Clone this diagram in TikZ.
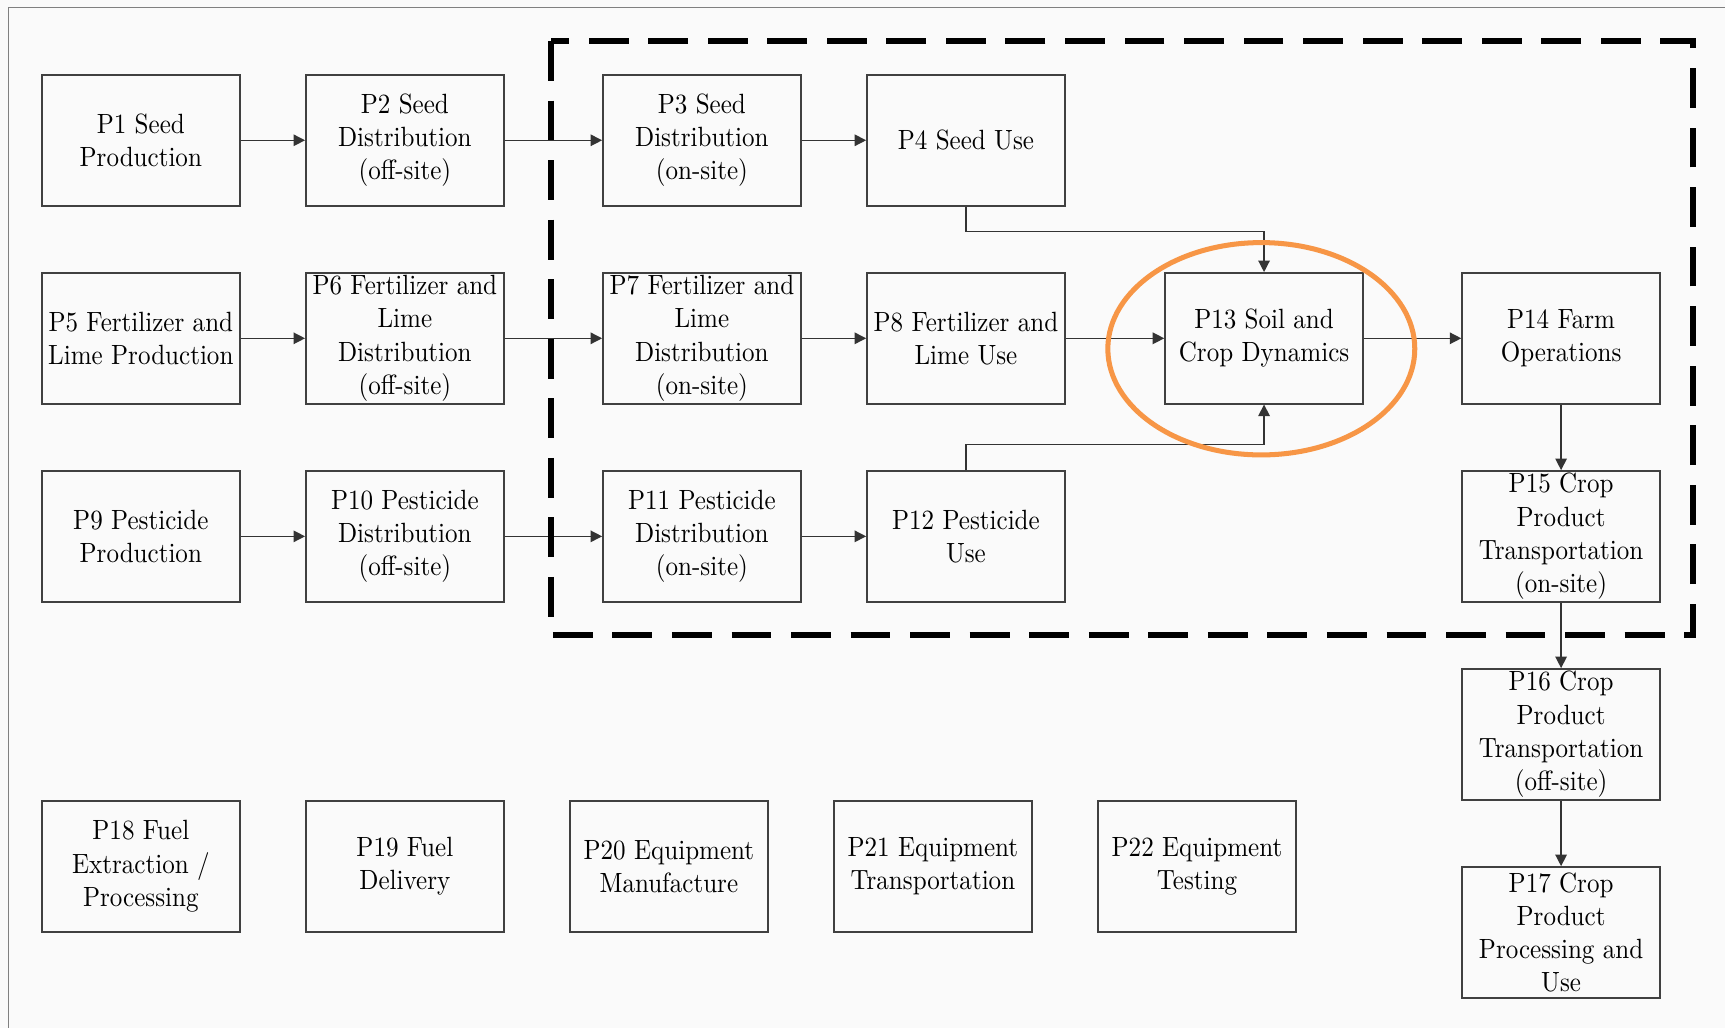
\documentclass[tikz,border=0pt]{standalone}
\usepackage{fontspec}
\setmainfont{lmroman10-regular.otf}[FakeStretch=0.9]
\usetikzlibrary{calc}
\usetikzlibrary{arrows.meta}
\definecolor{ringorange}{RGB}{247,150,70}

\begin{document}
\begin{tikzpicture}[
     proc/.style={draw=black!75,line width=0.4pt,minimum width=1.8cm,minimum height=1.19cm,
       inner sep=0pt,align=center,font=\rmfamily\fontsize{7.2}{8.6}\selectfont},
     flow/.style={draw=black!80,line width=0.35pt,-{Triangle[length=1.05mm,width=1.05mm]}}
   ]
   \path[use as bounding box,fill=black!2] (0,0) rectangle (15.68,-9.34);
   \draw[black!50,line width=0.4pt] (0.076,-9.4) -- (0.076,-0.067) -- (15.75,-0.067);
   % Supply chains.
   \node[proc] (p1) at (1.28,-1.275) {P1 Seed\\Production};
   \node[proc] (p2) at (3.68,-1.275) {P2 Seed\\Distribution\\(off-site)};
   \node[proc] (p3) at (6.38,-1.275) {P3 Seed\\Distribution\\(on-site)};
   \node[proc] (p4) at (8.78,-1.275) {P4 Seed Use};
   \node[proc] (p5) at (1.28,-3.075) {P5 Fertilizer and\\Lime Production};
   \node[proc] (p6) at (3.68,-3.075) {P6 Fertilizer and\\Lime\\Distribution\\(off-site)};
   \node[proc] (p7) at (6.38,-3.075) {P7 Fertilizer and\\Lime\\Distribution\\(on-site)};
   \node[proc] (p8) at (8.78,-3.075) {P8 Fertilizer and\\Lime Use};
   \node[proc] (p9) at (1.28,-4.875) {P9 Pesticide\\Production};
   \node[proc] (p10) at (3.68,-4.875) {P10 Pesticide\\Distribution\\(off-site)};
   \node[proc] (p11) at (6.38,-4.875) {P11 Pesticide\\Distribution\\(on-site)};
   \node[proc] (p12) at (8.78,-4.875) {P12 Pesticide\\Use};
   % Farm and crop product.
   \node[proc] (p13) at (11.49,-3.075) {P13 Soil and\\Crop Dynamics};
   \node[proc] (p14) at (14.19,-3.075) {P14 Farm\\Operations};
   \node[proc] (p15) at (14.19,-4.875) {P15 Crop\\Product\\Transportation\\(on-site)};
   \node[proc] (p16) at (14.19,-6.675) {P16 Crop\\Product\\Transportation\\(off-site)};
   \node[proc] (p17) at (14.19,-8.475) {P17 Crop\\Product\\Processing and\\Use};
   % Fuel and equipment.
   \node[proc] (p18) at (1.28,-7.875) {P18 Fuel\\Extraction /\\Processing};
   \node[proc] (p19) at (3.68,-7.875) {P19 Fuel\\Delivery};
   \node[proc] (p20) at (6.08,-7.875) {P20 Equipment\\Manufacture};
   \node[proc] (p21) at (8.48,-7.875) {P21 Equipment\\Transportation};
   \node[proc] (p22) at (10.88,-7.875) {P22 Equipment\\Testing};
   % Flows.
   \draw[flow] (p1) -- (p2);
   \draw[flow] (p2) -- (p3);
   \draw[flow] (p3) -- (p4);
   \draw[flow] (p5) -- (p6);
   \draw[flow] (p6) -- (p7);
   \draw[flow] (p7) -- (p8);
   \draw[flow] (p8) -- (p13);
   \draw[flow] (p13) -- (p14);
   \draw[flow] (p9) -- (p10);
   \draw[flow] (p10) -- (p11);
   \draw[flow] (p11) -- (p12);
   \draw[flow] (p4.south) -- ++(0,-0.23) -| (p13.north);
   \draw[flow] (p12.north) -- ++(0,0.23) -| (p13.south);
   \draw[flow] (p14) -- (p15);
   \draw[flow] (p15) -- (p16);
   \draw[flow] (p16) -- (p17);
   % On-site boundary.
   \draw[line width=1.4pt,dash pattern=on 10.3pt off 5.1pt] (5.01,-0.373) rectangle (15.39,-5.77);
   % Focus.
   \draw[ringorange,line width=1.3pt] (11.465,-3.17) ellipse [x radius=1.395,y radius=0.965];
 \end{tikzpicture}
\end{document}
